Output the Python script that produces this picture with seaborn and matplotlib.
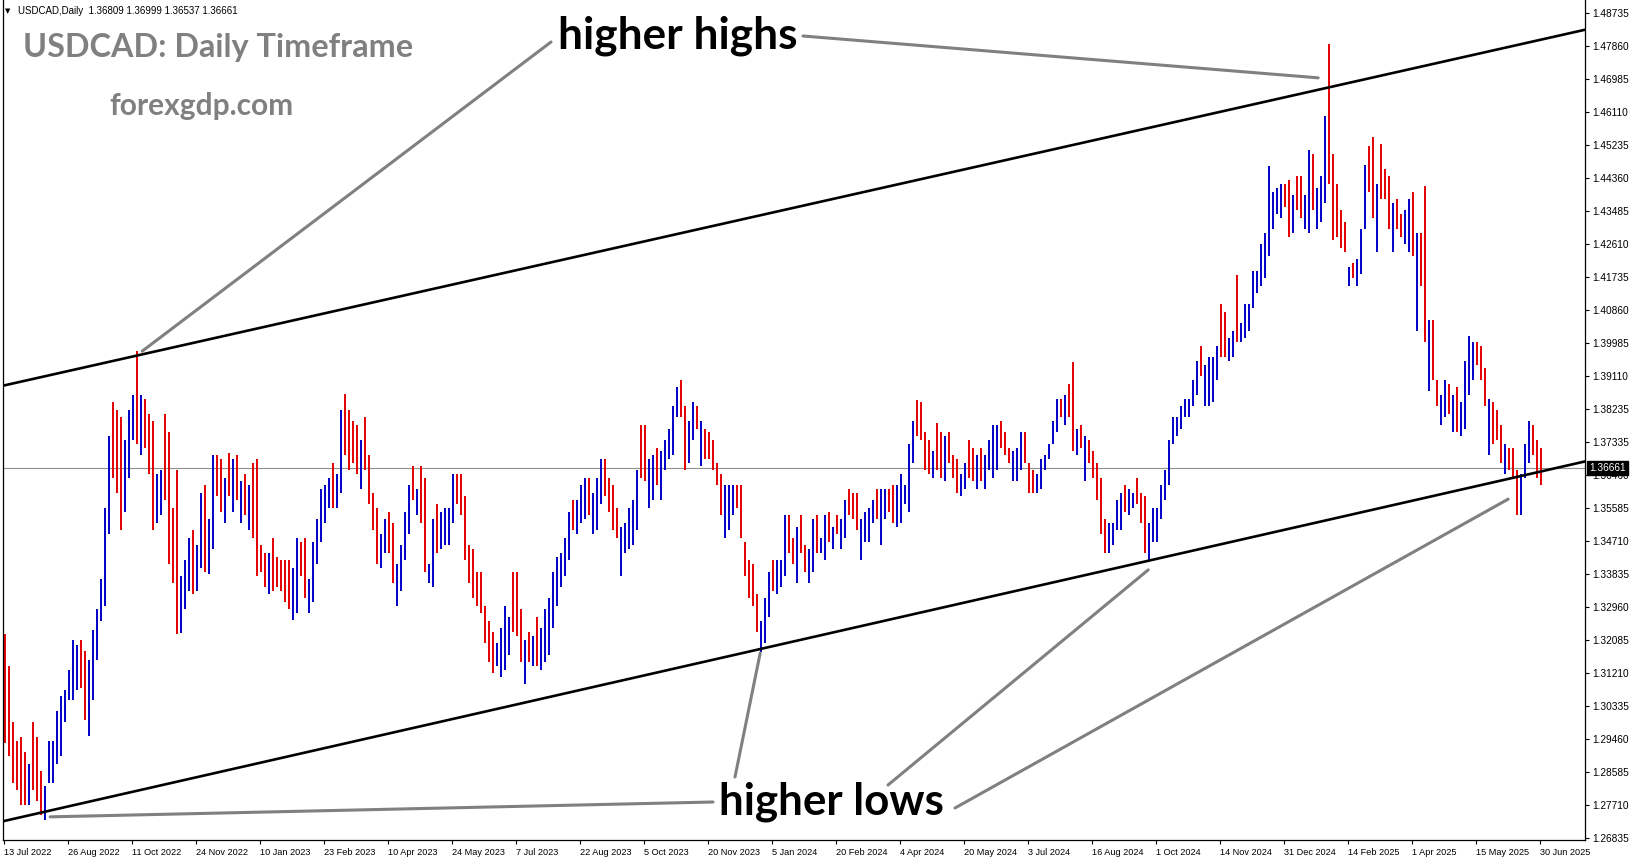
import numpy as np
import pandas as pd
import matplotlib
matplotlib.use("Agg")
import matplotlib.pyplot as plt
import matplotlib.transforms as mtransforms
from matplotlib.patches import ConnectionPatch
import seaborn as sns

# USDCAD daily, one bar per two trading days starting 13 Jul 2022
bar_high = [
    1.3225, 1.3140, 1.2990, 1.2940, 1.2950, 1.2910, 1.2880, 1.2990, 1.2950, 1.2860, 1.2820, 1.2940, 1.2940, 1.3020, 1.3060, 1.3075,
    1.3130, 1.3210, 1.3195, 1.3210, 1.3180, 1.3155, 1.3235, 1.3290, 1.3370, 1.3560, 1.3750, 1.3840, 1.3820, 1.3800, 1.3740, 1.3820,
    1.3860, 1.3977, 1.3860, 1.3850, 1.3810, 1.3790, 1.3650, 1.3660, 1.3810, 1.3760, 1.3560, 1.3660, 1.3380, 1.3420, 1.3480, 1.3500,
    1.3460, 1.3600, 1.3620, 1.3530, 1.3700, 1.3700, 1.3690, 1.3640, 1.3705, 1.3690, 1.3700, 1.3630, 1.3650, 1.3620, 1.3680, 1.3690,
    1.3460, 1.3440, 1.3440, 1.3480, 1.3430, 1.3420, 1.3420, 1.3420, 1.3400, 1.3480, 1.3470, 1.3480, 1.3370, 1.3470, 1.3530, 1.3610,
    1.3620, 1.3640, 1.3680, 1.3650, 1.3820, 1.3862, 1.3820, 1.3790, 1.3780, 1.3740, 1.3800, 1.3700, 1.3600, 1.3560, 1.3490, 1.3530,
    1.3550, 1.3520, 1.3410, 1.3460, 1.3550, 1.3620, 1.3670, 1.3610, 1.3670, 1.3640, 1.3410, 1.3530, 1.3570, 1.3550, 1.3560, 1.3560,
    1.3650, 1.3650, 1.3650, 1.3590, 1.3460, 1.3450, 1.3390, 1.3390, 1.3300, 1.3260, 1.3230, 1.3200, 1.3240, 1.3300, 1.3270, 1.3390,
    1.3390, 1.3290, 1.3210, 1.3230, 1.3220, 1.3270, 1.3240, 1.3290, 1.3320, 1.3390, 1.3430, 1.3440, 1.3480, 1.3550, 1.3580, 1.3580,
    1.3620, 1.3640, 1.3640, 1.3600, 1.3640, 1.3690, 1.3690, 1.3640, 1.3620, 1.3560, 1.3510, 1.3520, 1.3560, 1.3580, 1.3660, 1.3780,
    1.3780, 1.3690, 1.3700, 1.3720, 1.3710, 1.3740, 1.3770, 1.3830, 1.3880, 1.3900, 1.3830, 1.3790, 1.3840, 1.3830, 1.3790, 1.3770,
    1.3760, 1.3740, 1.3680, 1.3650, 1.3620, 1.3620, 1.3620, 1.3620, 1.3620, 1.3470, 1.3420, 1.3410, 1.3330, 1.3260, 1.3320, 1.3390,
    1.3420, 1.3420, 1.3420, 1.3540, 1.3540, 1.3480, 1.3510, 1.3540, 1.3460, 1.3450, 1.3530, 1.3540, 1.3480, 1.3540, 1.3550, 1.3510,
    1.3540, 1.3530, 1.3580, 1.3610, 1.3600, 1.3600, 1.3530, 1.3550, 1.3560, 1.3580, 1.3610, 1.3610, 1.3610, 1.3610, 1.3620, 1.3620,
    1.3650, 1.3620, 1.3730, 1.3790, 1.3846, 1.3840, 1.3760, 1.3740, 1.3710, 1.3785, 1.3760, 1.3750, 1.3760, 1.3700, 1.3690, 1.3650,
    1.3680, 1.3740, 1.3720, 1.3700, 1.3720, 1.3700, 1.3740, 1.3780, 1.3780, 1.3790, 1.3760, 1.3720, 1.3710, 1.3720, 1.3760, 1.3760,
    1.3680, 1.3660, 1.3650, 1.3690, 1.3700, 1.3730, 1.3790, 1.3850, 1.3850, 1.3860, 1.3890, 1.3946, 1.3770, 1.3780, 1.3750, 1.3740,
    1.3710, 1.3680, 1.3640, 1.3530, 1.3520, 1.3520, 1.3580, 1.3600, 1.3620, 1.3610, 1.3600, 1.3640, 1.3600, 1.3590, 1.3520, 1.3560,
    1.3560, 1.3620, 1.3660, 1.3740, 1.3800, 1.3800, 1.3830, 1.3850, 1.3850, 1.3900, 1.3950, 1.3990, 1.3940, 1.3960, 1.3960, 1.3990,
    1.4100, 1.4080, 1.4010, 1.4030, 1.4177, 1.4050, 1.4100, 1.4100, 1.4190, 1.4190, 1.4260, 1.4290, 1.4467, 1.4400, 1.4410, 1.4420,
    1.4420, 1.4430, 1.4390, 1.4440, 1.4440, 1.4390, 1.4510, 1.4500, 1.4410, 1.4440, 1.4600, 1.4793, 1.4500, 1.4420, 1.4350, 1.4320,
    1.4200, 1.4210, 1.4220, 1.4300, 1.4470, 1.4520, 1.4545, 1.4420, 1.4525, 1.4460, 1.4440, 1.4370, 1.4380, 1.4340, 1.4350, 1.4380,
    1.4400, 1.4290, 1.4290, 1.4415, 1.4060, 1.4060, 1.3900, 1.3860, 1.3900, 1.3890, 1.3860, 1.3880, 1.3840, 1.3950, 1.4015, 1.4000,
    1.4000, 1.3990, 1.3930, 1.3850, 1.3840, 1.3820, 1.3780, 1.3730, 1.3720, 1.3720, 1.3660, 1.3650, 1.3730, 1.3790, 1.3780, 1.3740,
    1.3720,
]
bar_low = [
    1.2935, 1.2900, 1.2830, 1.2810, 1.2770, 1.2770, 1.2770, 1.2810, 1.2780, 1.2745, 1.2730, 1.2830, 1.2830, 1.2880, 1.2900, 1.2990,
    1.3050, 1.3050, 1.3075, 1.3080, 1.2995, 1.2955, 1.3050, 1.3155, 1.3260, 1.3300, 1.3490, 1.3640, 1.3600, 1.3500, 1.3550, 1.3640,
    1.3740, 1.3730, 1.3700, 1.3720, 1.3650, 1.3500, 1.3520, 1.3540, 1.3580, 1.3410, 1.3360, 1.3226, 1.3227, 1.3290, 1.3340, 1.3330,
    1.3340, 1.3400, 1.3390, 1.3385, 1.3450, 1.3590, 1.3550, 1.3520, 1.3590, 1.3550, 1.3580, 1.3520, 1.3540, 1.3500, 1.3480, 1.3380,
    1.3390, 1.3350, 1.3330, 1.3340, 1.3350, 1.3340, 1.3310, 1.3290, 1.3262, 1.3280, 1.3380, 1.3320, 1.3280, 1.3310, 1.3410, 1.3470,
    1.3520, 1.3560, 1.3560, 1.3560, 1.3600, 1.3700, 1.3660, 1.3680, 1.3650, 1.3610, 1.3660, 1.3570, 1.3500, 1.3410, 1.3400, 1.3440,
    1.3440, 1.3360, 1.3300, 1.3340, 1.3420, 1.3490, 1.3580, 1.3540, 1.3520, 1.3390, 1.3360, 1.3350, 1.3440, 1.3450, 1.3460, 1.3460,
    1.3520, 1.3570, 1.3540, 1.3420, 1.3360, 1.3320, 1.3300, 1.3280, 1.3200, 1.3150, 1.3120, 1.3140, 1.3110, 1.3130, 1.3170, 1.3230,
    1.3220, 1.3150, 1.3093, 1.3150, 1.3140, 1.3140, 1.3130, 1.3150, 1.3170, 1.3240, 1.3300, 1.3350, 1.3380, 1.3420, 1.3500, 1.3490,
    1.3520, 1.3530, 1.3540, 1.3490, 1.3500, 1.3570, 1.3590, 1.3550, 1.3500, 1.3480, 1.3380, 1.3440, 1.3450, 1.3460, 1.3500, 1.3640,
    1.3630, 1.3560, 1.3580, 1.3620, 1.3580, 1.3660, 1.3690, 1.3700, 1.3800, 1.3800, 1.3660, 1.3680, 1.3740, 1.3770, 1.3670, 1.3690,
    1.3690, 1.3660, 1.3620, 1.3540, 1.3480, 1.3500, 1.3540, 1.3560, 1.3480, 1.3380, 1.3320, 1.3300, 1.3230, 1.3178, 1.3200, 1.3270,
    1.3340, 1.3330, 1.3350, 1.3380, 1.3440, 1.3410, 1.3360, 1.3440, 1.3390, 1.3360, 1.3390, 1.3440, 1.3440, 1.3420, 1.3470, 1.3450,
    1.3490, 1.3450, 1.3480, 1.3540, 1.3530, 1.3500, 1.3420, 1.3470, 1.3470, 1.3520, 1.3530, 1.3460, 1.3530, 1.3550, 1.3520, 1.3510,
    1.3520, 1.3570, 1.3550, 1.3680, 1.3750, 1.3740, 1.3660, 1.3650, 1.3640, 1.3660, 1.3640, 1.3630, 1.3680, 1.3640, 1.3600, 1.3590,
    1.3610, 1.3640, 1.3630, 1.3610, 1.3630, 1.3610, 1.3660, 1.3640, 1.3660, 1.3720, 1.3700, 1.3680, 1.3630, 1.3630, 1.3660, 1.3680,
    1.3600, 1.3600, 1.3600, 1.3610, 1.3660, 1.3690, 1.3730, 1.3760, 1.3800, 1.3780, 1.3800, 1.3710, 1.3700, 1.3720, 1.3630, 1.3680,
    1.3640, 1.3580, 1.3490, 1.3440, 1.3440, 1.3460, 1.3500, 1.3500, 1.3550, 1.3540, 1.3560, 1.3570, 1.3520, 1.3440, 1.3420, 1.3470,
    1.3470, 1.3530, 1.3580, 1.3620, 1.3730, 1.3750, 1.3770, 1.3800, 1.3800, 1.3830, 1.3860, 1.3910, 1.3830, 1.3830, 1.3840, 1.3900,
    1.3960, 1.3960, 1.3950, 1.3960, 1.4000, 1.4000, 1.4010, 1.4030, 1.4090, 1.4130, 1.4150, 1.4170, 1.4230, 1.4300, 1.4340, 1.4330,
    1.4360, 1.4280, 1.4290, 1.4350, 1.4330, 1.4300, 1.4290, 1.4350, 1.4300, 1.4320, 1.4370, 1.4420, 1.4270, 1.4280, 1.4250, 1.4240,
    1.4150, 1.4170, 1.4150, 1.4180, 1.4300, 1.4400, 1.4330, 1.4240, 1.4380, 1.4380, 1.4300, 1.4240, 1.4300, 1.4280, 1.4260, 1.4240,
    1.4230, 1.4030, 1.4150, 1.4000, 1.3870, 1.3900, 1.3830, 1.3780, 1.3800, 1.3810, 1.3760, 1.3760, 1.3750, 1.3770, 1.3860, 1.3900,
    1.3940, 1.3900, 1.3830, 1.3700, 1.3730, 1.3740, 1.3680, 1.3650, 1.3660, 1.3640, 1.3540, 1.3540, 1.3640, 1.3680, 1.3700, 1.3640,
    1.3620,
]

x_labels = ['13 Jul 2022', '26 Aug 2022', '11 Oct 2022', '24 Nov 2022', '10 Jan 2023', '23 Feb 2023',
            '10 Apr 2023', '24 May 2023', '7 Jul 2023', '22 Aug 2023', '5 Oct 2023', '20 Nov 2023',
            '5 Jan 2024', '20 Feb 2024', '4 Apr 2024', '20 May 2024', '3 Jul 2024', '16 Aug 2024',
            '1 Oct 2024', '14 Nov 2024', '31 Dec 2024', '14 Feb 2025', '1 Apr 2025', '15 May 2025', '30 Jun 2025']
y_labels = ['1.48735', '1.47860', '1.46985', '1.46110', '1.45235', '1.44360', '1.43485', '1.42610', '1.41735',
            '1.40860', '1.39985', '1.39110', '1.38235', '1.37335', '1.36460', '1.35585', '1.34710', '1.33835',
            '1.32960', '1.32085', '1.31210', '1.30335', '1.29460', '1.28585', '1.27710', '1.26835']

header = 'USDCAD,Daily  1.36809 1.36999 1.36537 1.36661'
last_price = 1.36661

# channel lines (trading day, price)
upper_line = [(0, 1.3885), (768, 1.4803)]
lower_line = [(0, 1.2728), (768, 1.3656)]
# swing points the callouts point at
hh_points = [(69, 1.3976), (657, 1.4702)]
hl_points = [(23, 1.2739), (378, 1.3174), (572, 1.3395), (752, 1.3583)]

df = pd.DataFrame({'high': bar_high, 'low': bar_low})
df['day'] = np.arange(len(df)) * 2 + 0.5
mid = (df['high'] + df['low']) / 2
# a bar counts as an up bar when the market carries on higher into the next bar
df['up'] = mid.shift(-1).fillna(last_price) >= mid

sns.set_theme(style='white')
plt.rcParams['font.family'] = ['Liberation Sans', 'DejaVu Sans']

W, H = 1631, 861
fig = plt.figure(figsize=(W / 100, H / 100), dpi=100)
fig.patch.set_facecolor('white')


def fx(px):
    return px / W


def fy(py):
    return 1 - py / H


ax = fig.add_axes([fx(3), fy(840), fx(1585) - fx(3), fy(0) - fy(840)])
ax.set_facecolor('white')

blue, red = '#0000c8', '#e40000'
ax.vlines(df['day'], df['low'], df['high'], colors=np.where(df['up'], blue, red), lw=1.4, zorder=2)

ax.axhline(last_price, color='#909090', lw=0.8, zorder=1)
ax.axline(upper_line[0], upper_line[1], color='black', lw=1.9, zorder=3)
ax.axline(lower_line[0], lower_line[1], color='black', lw=1.9, zorder=3)

ax.set_xlim(-0.6, 790.4)
ax.set_ylim(1.26775, 1.49088)

ax.set_xticks(np.arange(len(x_labels)) * 32)
ax.set_xticklabels(x_labels)
for lab in ax.get_xticklabels():
    lab.set_ha('left')
ax.set_yticks([float(v) for v in y_labels])
ax.set_yticklabels(y_labels)
ax.yaxis.tick_right()
ax.tick_params(axis='x', direction='out', length=3, width=0.8, pad=3, labelsize=6.6, colors='black', bottom=True)
ax.tick_params(axis='y', direction='out', length=3, width=0.8, pad=2, labelsize=7.3, colors='black', right=True)
ax.grid(False)
sns.despine(ax=ax, top=True, right=False, left=False, bottom=False)
for s in ['left', 'right', 'bottom']:
    ax.spines[s].set_color('black')
    ax.spines[s].set_linewidth(0.9)

trans = mtransforms.blended_transform_factory(ax.transAxes, ax.transData)
ax.annotate(f'{last_price:.5f}', xy=(1, last_price), xycoords=trans, xytext=(4, 0),
            textcoords='offset pixels', ha='left', va='center', fontsize=7.3, color='white',
            bbox=dict(boxstyle='square,pad=0.2', fc='black', ec='black'), annotation_clip=False, zorder=5)

# header and watermark texts
fig.text(fx(5), fy(11), '\u25bc', fontsize=5, color='black', va='center', family=['DejaVu Sans'])
fig.text(fx(18), fy(11), header, fontsize=7, color='black', va='center')
fig.text(fx(23), fy(57), 'USDCAD: Daily Timeframe', fontsize=23.3, color='#808080',
         fontweight='bold', family=['Lato', 'DejaVu Sans'], va='baseline')
fig.text(fx(109), fy(115), 'forexgdp.com', fontsize=21.5, color='#808080',
         fontweight='bold', family=['Lato', 'DejaVu Sans'], va='baseline')

fig.text(fx(558), fy(49), 'higher highs', fontsize=31.8, color='black',
         fontweight='bold', family=['Lato', 'DejaVu Sans'], va='baseline')
fig.text(fx(719), fy(814), 'higher lows', fontsize=31.6, color='black',
         fontweight='bold', family=['Lato', 'DejaVu Sans'], va='baseline')

# callout lines from the labels to the swing points
hh_starts = [(551, 42), (803, 36)]
hl_starts = [(713, 802), (735, 777), (888, 785), (955, 808)]
for start, pt in zip(hh_starts + hl_starts, hh_points + hl_points):
    con = ConnectionPatch(xyA=(fx(start[0]), fy(start[1])), coordsA=fig.transFigure,
                          xyB=pt, coordsB=ax.transData, color='#808080', lw=2.2,
                          arrowstyle='-', shrinkA=0, shrinkB=0, zorder=4)
    fig.add_artist(con)

fig.savefig('out.png', dpi=100)
